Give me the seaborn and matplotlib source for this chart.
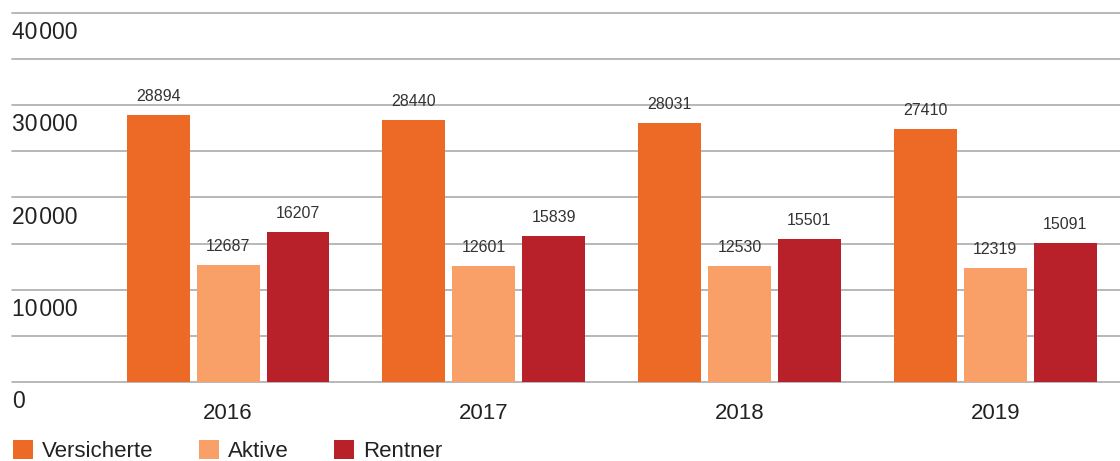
import matplotlib
matplotlib.use("Agg")
import matplotlib.pyplot as plt
import matplotlib.transforms as mtransforms
from matplotlib.patches import Patch
import seaborn as sns
import pandas as pd

years = ["2016", "2017", "2018", "2019"]
groups = ["Versicherte", "Aktive", "Rentner"]
versicherte = [28894, 28440, 28031, 27410]
aktive = [12687, 12601, 12530, 12319]
rentner = [16207, 15839, 15501, 15091]
colors = ["#EC6A25", "#F8A068", "#B8202A"]
ytick_values = [0, 5000, 10000, 15000, 20000, 25000, 30000, 35000, 40000]
ytick_labels = {0: "0", 10000: "10\u200a000", 20000: "20\u200a000", 30000: "30\u200a000", 40000: "40\u200a000"}

rows = []
for name, vals in zip(groups, [versicherte, aktive, rentner]):
    for y, v in zip(years, vals):
        rows.append({"Jahr": y, "Gruppe": name, "Wert": v})
df = pd.DataFrame(rows)

sns.set_theme(style="white")
plt.rcParams["font.family"] = ["Liberation Sans", "DejaVu Sans"]

fig = plt.figure(figsize=(11.2, 4.61), dpi=100)
ax = fig.add_axes([12 / 1120, 79 / 461, 1108 / 1120, 369 / 461])

sns.barplot(data=df, x="Jahr", y="Wert", hue="Gruppe", hue_order=groups,
            palette=colors, saturation=1, width=0.82, gap=0.1, ax=ax,
            legend=False, errorbar=None, zorder=3, linewidth=0, edgecolor="none")

for cont in ax.containers:
    ax.bar_label(cont, labels=[f"{int(b.get_height())}" for b in cont],
                 padding=8, fontsize=11.5, color="#333333")

ax.set_xlim(-0.845, 3.488)
ax.set_ylim(0, 40000)
ax.set_yticks(ytick_values)
ax.set_yticklabels([])
ax.tick_params(axis="y", length=0)
ax.yaxis.grid(True, color="#ABABAB", linewidth=1.2)
ax.xaxis.grid(False)
ax.set_axisbelow(True)
for line in ax.get_ygridlines():
    line.set_clip_on(False)
for s in ax.spines.values():
    s.set_visible(False)

ax.set_xlabel("")
ax.set_ylabel("")
ax.tick_params(axis="x", length=0, pad=15, labelsize=16, labelcolor="#222222")

off = mtransforms.ScaledTranslation(0, -8 / 100, fig.dpi_scale_trans)
trans = mtransforms.blended_transform_factory(ax.transAxes, ax.transData) + off
for v, lab in ytick_labels.items():
    ax.text(0, v, lab, transform=trans, ha="left", va="top",
            fontsize=16.5, color="#222222")

handles = [Patch(facecolor=c, edgecolor="none") for c in colors]
fig.legend(handles, groups, loc="center left", bbox_to_anchor=(13 / 1120, 10 / 461),
           ncol=3, frameon=False, handlelength=0.9, handleheight=0.9,
           handletextpad=0.4, columnspacing=2.05, borderpad=0, borderaxespad=0,
           fontsize=16, labelcolor="#222222")

fig.savefig("out.png", dpi=100)
